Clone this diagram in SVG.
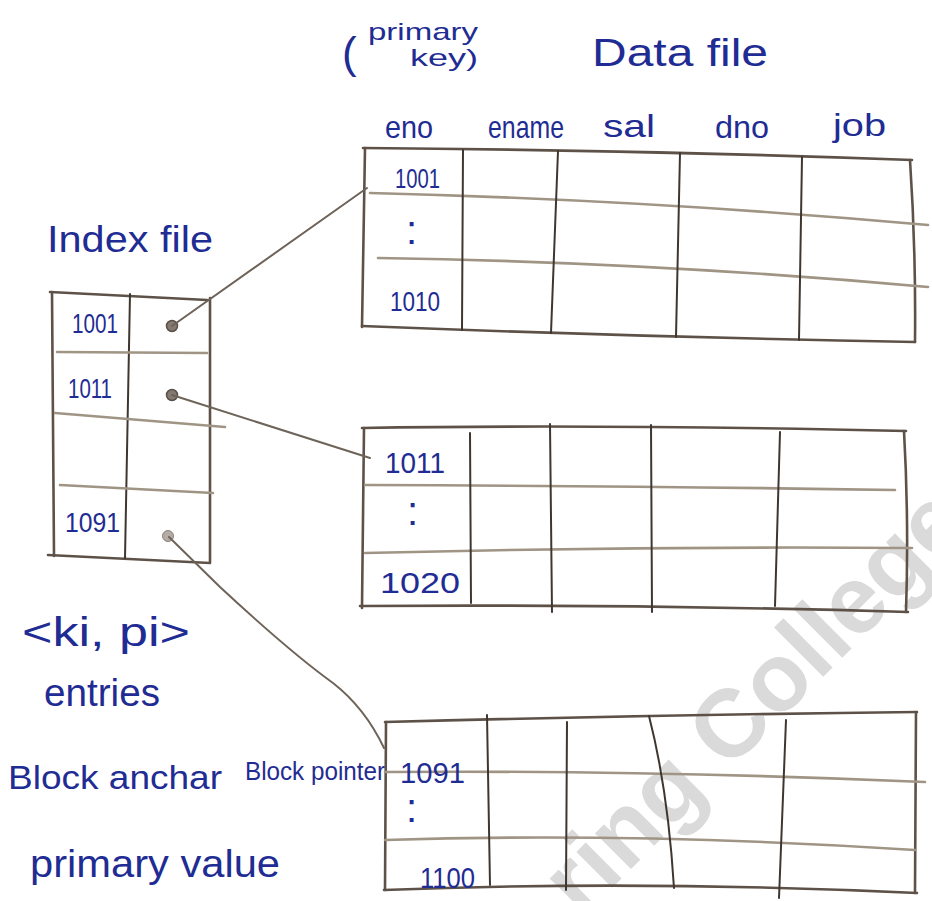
<svg xmlns="http://www.w3.org/2000/svg" width="932" height="901" viewBox="0 0 932 901">
<style>
  .bd { fill: none; stroke: #5e5248; stroke-width: 2.6; stroke-linecap: round; }
  .rw { fill: none; stroke: #a09484; stroke-width: 2.6; stroke-linecap: round; }
  .cl { fill: none; stroke: #3f3630; stroke-width: 2; stroke-linecap: round; }
  .cn { fill: none; stroke: #6e6358; stroke-width: 2; stroke-linecap: round; }
  .dot { fill: #857a72; stroke: #5a5048; stroke-width: 1.5; }
  .h { font-family: "Liberation Sans", "DejaVu Sans", sans-serif; fill: #1f2c93; lengthAdjust: spacingAndGlyphs; }
  .wm { font-family: "Liberation Sans", "DejaVu Sans", sans-serif; font-weight: bold; fill: #dadada; }
</style>

<g id="watermark">
  <text class="wm" x="581" y="919" font-size="96" transform="rotate(-45 581 919)">ring College</text>
</g>

<g id="labels">
  <text class="h" x="342" y="68" font-size="44">(</text>
  <text class="h" x="368" y="40" font-size="24" textLength="110" lengthAdjust="spacingAndGlyphs">primary</text>
  <text class="h" x="410" y="66" font-size="24" textLength="68" lengthAdjust="spacingAndGlyphs">key)</text>
  <text class="h" x="592" y="66" font-size="38" textLength="176" lengthAdjust="spacingAndGlyphs">Data file</text>
  <text class="h" x="385" y="138" font-size="32" textLength="48" lengthAdjust="spacingAndGlyphs">eno</text>
  <text class="h" x="488" y="138" font-size="32" textLength="76" lengthAdjust="spacingAndGlyphs">ename</text>
  <text class="h" x="603" y="137" font-size="32" textLength="52" lengthAdjust="spacingAndGlyphs">sal</text>
  <text class="h" x="715" y="138" font-size="32" textLength="54" lengthAdjust="spacingAndGlyphs">dno</text>
  <text class="h" x="833" y="136" font-size="32" textLength="53" lengthAdjust="spacingAndGlyphs">job</text>
  <text class="h" x="47" y="252" font-size="36" textLength="166" lengthAdjust="spacingAndGlyphs">Index file</text>
  <text class="h" x="22" y="646" font-size="40" textLength="168" lengthAdjust="spacingAndGlyphs">&lt;ki, pi&gt;</text>
  <text class="h" x="44" y="706" font-size="38" textLength="116" lengthAdjust="spacingAndGlyphs">entries</text>
  <text class="h" x="8" y="789" font-size="34" textLength="214" lengthAdjust="spacingAndGlyphs">Block anchar</text>
  <text class="h" x="245" y="780" font-size="26" textLength="140" lengthAdjust="spacingAndGlyphs">Block pointer</text>
  <text class="h" x="30" y="877" font-size="38" textLength="250" lengthAdjust="spacingAndGlyphs">primary value</text>
</g>

<g id="index-file">
  <path class="bd" d="M50,292 L207,300"/>
  <path class="bd" d="M52,292 L54,556"/>
  <path class="bd" d="M210,298 L210,562"/>
  <path class="bd" d="M48,555 L210,563"/>
  <path class="cl" d="M130,294 L125,558"/>
  <path class="rw" d="M57,352 L207,353"/>
  <path class="rw" d="M55,413 L225,427"/>
  <path class="rw" d="M60,485 L213,493"/>
  <text class="h" x="72" y="333" font-size="28" textLength="46" lengthAdjust="spacingAndGlyphs">1001</text>
  <text class="h" x="68" y="398" font-size="28" textLength="44" lengthAdjust="spacingAndGlyphs">1011</text>
  <text class="h" x="65" y="532" font-size="28" textLength="55" lengthAdjust="spacingAndGlyphs">1091</text>
  <circle class="dot" cx="172" cy="326" r="5.5"/>
  <circle class="dot" cx="172" cy="395" r="5.5"/>
  <circle cx="168" cy="536" r="5.5" fill="#b5aca6" stroke="#8a8078" stroke-width="1"/>
</g>

<g id="data-block-1">
  <path class="bd" d="M363,148 Q640,150 912,160"/>
  <path class="bd" d="M365,148 L362,327"/>
  <path class="bd" d="M910,160 Q916,250 915,342"/>
  <path class="bd" d="M362,326 Q640,337 915,342"/>
  <path class="rw" d="M370,193 Q650,200 928,225"/>
  <path class="rw" d="M378,258 Q650,262 928,287"/>
  <path class="cl" d="M463,150 L462,330"/>
  <path class="cl" d="M558,151 L551,333"/>
  <path class="cl" d="M680,153 L676,337"/>
  <path class="cl" d="M802,157 L799,340"/>
  <text class="h" x="395" y="188" font-size="28" textLength="45" lengthAdjust="spacingAndGlyphs">1001</text>
  <text class="h" x="406" y="244" font-size="40">:</text>
  <text class="h" x="390" y="311" font-size="28" textLength="50" lengthAdjust="spacingAndGlyphs">1010</text>
</g>

<g id="data-block-2">
  <path class="bd" d="M362,428 Q600,424 906,431"/>
  <path class="bd" d="M364,428 L362,608"/>
  <path class="bd" d="M904,431 Q909,520 906,612"/>
  <path class="bd" d="M360,606 Q640,604 908,612"/>
  <path class="rw" d="M365,485 Q640,486 895,490"/>
  <path class="rw" d="M365,553 Q640,546 912,548"/>
  <path class="cl" d="M470,433 L471,603"/>
  <path class="cl" d="M550,424 L552,612"/>
  <path class="cl" d="M651,425 L652,612"/>
  <path class="cl" d="M780,432 L775,606"/>
  <text class="h" x="385" y="473" font-size="30" textLength="60" lengthAdjust="spacingAndGlyphs">1011</text>
  <text class="h" x="407" y="525" font-size="40">:</text>
  <text class="h" x="380" y="593" font-size="30" textLength="80" lengthAdjust="spacingAndGlyphs">1020</text>
</g>

<g id="data-block-3">
  <path class="bd" d="M385,722 Q650,715 917,712"/>
  <path class="bd" d="M386,722 L385,890"/>
  <path class="bd" d="M916,712 L915,893"/>
  <path class="bd" d="M384,890 Q640,880 917,893"/>
  <path class="rw" d="M385,772 Q650,770 925,782"/>
  <path class="rw" d="M385,840 Q640,832 915,850"/>
  <path class="cl" d="M487,715 L490,885"/>
  <path class="cl" d="M567,722 L566,890"/>
  <path class="cl" d="M649,716 Q668,790 674,888"/>
  <path class="cl" d="M786,720 L779,898"/>
  <text class="h" x="400" y="783" font-size="30" textLength="65" lengthAdjust="spacingAndGlyphs">1091</text>
  <text class="h" x="406" y="822" font-size="40">:</text>
  <text class="h" x="420" y="888" font-size="30" textLength="55" lengthAdjust="spacingAndGlyphs">1100</text>
</g>

<g id="connectors">
  <path class="cn" d="M172,326 L367,188"/>
  <path class="cn" d="M172,395 L370,458"/>
  <path class="cn" d="M169,537 L220,587 Q290,652 333,683 Q365,708 384,748"/>
</g>
</svg>
